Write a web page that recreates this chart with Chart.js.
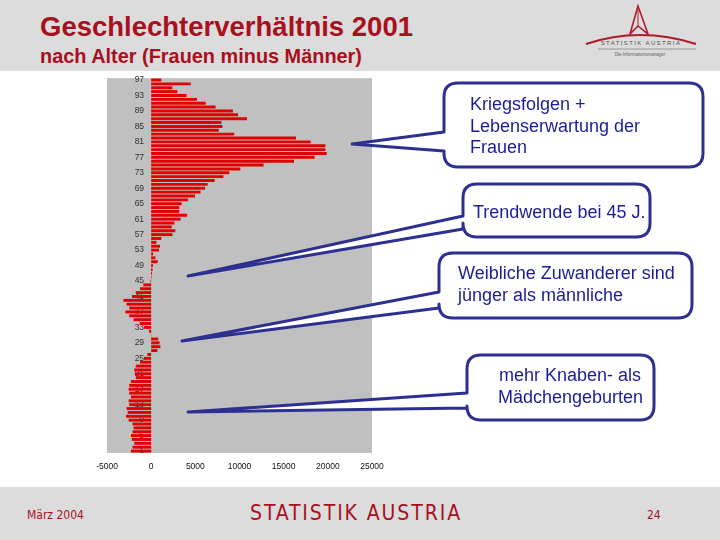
<!DOCTYPE html>
<html lang="de">
<head>
  <meta charset="UTF-8">
  <title>Geschlechterverhältnis 2001</title>
  <script src="https://cdn.jsdelivr.net/npm/chart.js"></script>
  <style>
    body{
      margin: 0;
      background: #fff;
      font-family: 'Liberation Sans', Arial, sans-serif;
    }
    #page{
      position: relative;
      width: 720px;
      height: 540px;
      overflow: hidden;
      background: #fff;
    }
    #head{
      position: absolute;
      left: 0; top: 0;
      width: 720px; height: 71px;
      background: #dcdcdc;
    }
    #title{
      position: absolute;
      left: 40px; top: 11px;
      font-size: 27.5px;
      font-weight: bold;
      color: #a8101e;
      white-space: nowrap;
    }
    #subtitle{
      position: absolute;
      left: 40px; top: 45px;
      font-size: 19.9px;
      font-weight: bold;
      color: #a8101e;
      white-space: nowrap;
    }
    #foot{
      position: absolute;
      left: 0; top: 487px;
      width: 720px; height: 53px;
      background: #dcdcdc;
      color: #a8101e;
    }
    .narrow{
      position: absolute;
      font-family: 'Liberation Sans Narrow', 'DejaVu Sans Condensed', sans-serif;
    }
    #chartBox{
      position: absolute;
      left: 0; top: 70px;
    }
    #overlay{
      position: absolute;
      left: 0; top: 0;
      pointer-events: none;
    }
  </style>
</head>
<body>
<div id="page">
  <div id="head"></div>
  <div id="title">Geschlechterverhältnis 2001</div>
  <div id="subtitle">nach Alter (Frauen minus Männer)</div>

  <!-- logo oben rechts -->
  <svg style="position:absolute;left:580px;top:2px" width="125" height="62">
    <path d="M58 4 L50 32 L58 24 L68 32 Z" fill="none" stroke="#b01a2a" stroke-width="1.6"/>
    <path d="M58 4 L58 24" stroke="#b01a2a" stroke-width="1"/>
    <path d="M6 42 Q60 24 116 42" fill="none" stroke="#b01a2a" stroke-width="2.2"/>
    <text x="61" y="43" text-anchor="middle" font-size="6" letter-spacing="1.4" fill="#555">STATISTIK AUSTRIA</text>
    <line x1="18" y1="47" x2="116" y2="47" stroke="#888" stroke-width="0.8"/>
    <text x="60" y="54" text-anchor="middle" font-size="4.5" fill="#666">Die Informationsmanager</text>
  </svg>

  <div id="chartBox"><canvas id="pyramid" width="400" height="410"></canvas></div>

  <div id="foot">
    <div class="narrow" style="left:27px;top:21px;font-size:12px;">März 2004</div>
    <div class="narrow" style="left:250px;top:14px;font-size:21px;letter-spacing:1.9px;">STATISTIK AUSTRIA</div>
    <div class="narrow" style="left:647px;top:21px;font-size:12px;">24</div>
  </div>

  <svg id="overlay" width="720" height="540"></svg>
</div>

<script>
  // Alter 1..97 (unten -> oben)
  const ages = Array.from({length: 97}, (_, i) => i + 1);
  const tickAges = [1, 5, 9, 13, 17, 21, 25, 29, 33, 37, 41, 45, 49, 53, 57, 61, 65, 69, 73, 77, 81, 85, 89, 93, 97];
  const xTicks = [-5000, 0, 5000, 10000, 15000, 20000, 25000];

  // Frauen minus Männer, Alter 1..97
  const womenMinusMen = [
    -2290, -2110, -1920, -2180, -2290, -2110, -2000, -2110, -2550, -2850,   // 1-10
    -2660, -2780, -2480, -2550, -2290, -2480, -2550, -2480, -2290, -1740,   // 11-20
    -1850, -1920, -1740, -1260,  -810,  -440,   700,  1050,   950,   800,   // 21-30
      -30,  -250,  -800, -1300, -2000, -2480, -2920, -2480, -2780, -3140,   // 31-40
    -2180, -1740, -1260,  -890,   -60,    60,   100,   150,   200,   740,   // 41-50
      480,   220,   890,  1000,   590,  1150,  2400,  2740,  2330,  2630,   // 51-60
     3330,  4070,  3180,  3180,  3440,  4180,  4960,  5590,  6100,  6400,   // 61-70
     7180,  8180,  8840, 10100, 12730, 16170, 18500, 19870, 19720, 19720,   // 71-80
    18060, 16390,  9400,  7660,  8070,  7950, 10840,  9840,  9250,  7290,   // 81-90
     6180,  5180,  4000,  2960,  2400,  4480,  1150                         // 91-97
  ];

  // Sprechblasen
  const callouts = [
    { box: [444, 83, 259, 84], attach: [132, 151], tip: [352, 144],
      lines: [['Kriegsfolgen +', 470, 110], ['Lebenserwartung der', 470, 132], ['Frauen', 470, 153]] },
    { box: [463, 184, 187, 53], attach: [216, 229], tip: [188, 276],
      lines: [['Trendwende bei 45 J.', 473, 218]] },
    { box: [439, 253, 253, 65], attach: [292, 308], tip: [182, 341],
      lines: [['Weibliche Zuwanderer sind', 458, 279], ['jünger als männliche', 458, 301]] },
    { box: [467, 355, 187, 65], attach: [393, 408], tip: [188, 412],
      lines: [['mehr Knaben- als', 499, 381], ['Mädchengeburten', 498, 403]] }
  ];

  const plotBg = {
    id: 'plotBg',
    beforeDraw(chart) {
      const { ctx, chartArea: a } = chart;
      ctx.save();
      ctx.fillStyle = '#c0c0c0';
      ctx.fillRect(a.left, a.top, a.right - a.left, a.bottom - a.top);
      ctx.restore();
    }
  };

  new Chart(document.getElementById('pyramid'), {
    type: 'bar',
    data: {
      labels: ages,
      datasets: [{
        data: womenMinusMen,
        backgroundColor: '#e00000',
        borderWidth: 0,
        barPercentage: 0.76,
        categoryPercentage: 1
      }]
    },
    options: {
      indexAxis: 'y',
      responsive: false,
      animation: false,
      layout: { padding: { left: 107, right: 28, top: 5, bottom: 0 } },
      plugins: { legend: { display: false }, tooltip: { enabled: false } },
      scales: {
        x: {
          min: -5000,
          max: 25000,
          afterBuildTicks: s => { s.ticks = xTicks.map(v => ({ value: v })); },
          afterFit: s => { s.height = 27; },
          grid: { display: false, drawTicks: false },
          border: { display: false },
          ticks: {
            callback: v => String(v),
            font: { size: 8.5, family: "'Liberation Sans', Arial" },
            color: '#111',
            padding: 9,
            maxRotation: 0
          }
        },
        y: {
          reverse: true,
          position: { x: -800 },
          z: 1,
          grid: { display: false, drawTicks: false },
          border: { display: false },
          ticks: {
            autoSkip: false,
            callback: v => tickAges.includes(ages[v]) ? String(ages[v]) : '',
            font: { size: 8.5, family: "'Liberation Sans', Arial" },
            color: '#333'
          }
        }
      }
    },
    plugins: [plotBg]
  });

  // Sprechblasen zeichnen
  const svg = document.getElementById('overlay');
  const ns = 'http://www.w3.org/2000/svg';
  callouts.forEach(c => {
    const [x, y, w, h] = c.box;
    const r = 14;
    const [a1, a2] = c.attach;
    const [tx, ty] = c.tip;
    const d = `M${x + r},${y} H${x + w - r} Q${x + w},${y} ${x + w},${y + r} V${y + h - r} ` +
      `Q${x + w},${y + h} ${x + w - r},${y + h} H${x + r} Q${x},${y + h} ${x},${y + h - r} ` +
      `V${a2} L${tx},${ty} L${x},${a1} V${y + r} Q${x},${y} ${x + r},${y} Z`;
    const p = document.createElementNS(ns, 'path');
    p.setAttribute('d', d);
    p.setAttribute('fill', '#fff');
    p.setAttribute('stroke', '#2e3090');
    p.setAttribute('stroke-width', '3');
    p.setAttribute('stroke-linejoin', 'round');
    svg.appendChild(p);
    c.lines.forEach(([txt, lx, ly]) => {
      const t = document.createElementNS(ns, 'text');
      t.setAttribute('x', lx);
      t.setAttribute('y', ly);
      t.setAttribute('font-size', '18');
      t.setAttribute('font-family', "'Liberation Sans', Arial, sans-serif");
      t.setAttribute('fill', '#1c1c96');
      t.textContent = txt;
      svg.appendChild(t);
    });
  });
</script>
</body>
</html>
